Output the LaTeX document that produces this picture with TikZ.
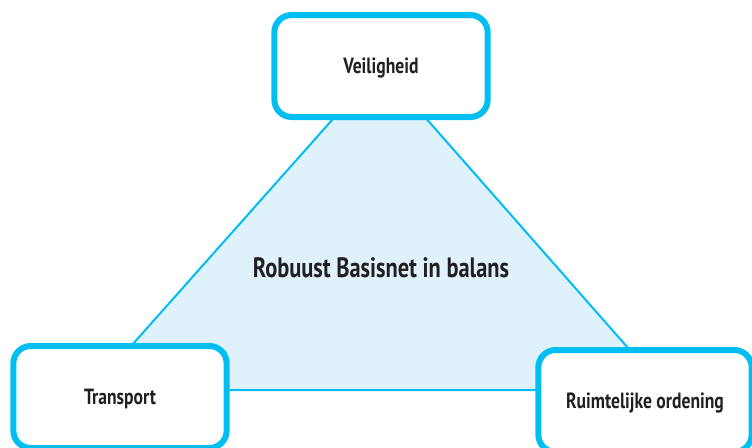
\documentclass[tikz,border=0pt]{standalone}
\usepackage{fontspec}
\setmainfont{PT Sans}[FakeStretch=0.8]
\definecolor{cyanline}{HTML}{00BEF2}
\definecolor{paleblue}{HTML}{DFF1FB}
\definecolor{inkdark}{HTML}{231F20}
\usetikzlibrary{positioning}

\begin{document}
\begin{tikzpicture}[
  x=0.75pt, y=-0.75pt,
  pillar/.style={draw=cyanline, line width=4.5pt, fill=white, rounded corners=13pt,
                 minimum width=160pt, minimum height=76.5pt, align=center,
                 text depth=0pt, text=inkdark, font=\fontsize{16.5}{19}\selectfont\bfseries},
  balance/.style={draw=cyanline, line width=1.5pt, fill=paleblue},
]
\useasboundingbox (0,0) rectangle (752,447);

% driehoek achter de kaders
\coordinate (apex) at (380,66);
\coordinate (left) at (92,390);
\coordinate (right) at (665,390);
\draw[balance] (apex) -- (left) -- (right) -- cycle;
\node[text=inkdark, font=\fontsize{21}{25}\selectfont\bfseries] (core) at (381,268) {Robuust Basisnet in balans};

% de drie pijlers
\node[pillar] (veil) at (381,66) {Veiligheid};
\node[pillar] (trans) at (120,397) {Transport};
\node[pillar] (ruimte) at (645,401) {Ruimtelijke ordening};
\end{tikzpicture}
\end{document}
